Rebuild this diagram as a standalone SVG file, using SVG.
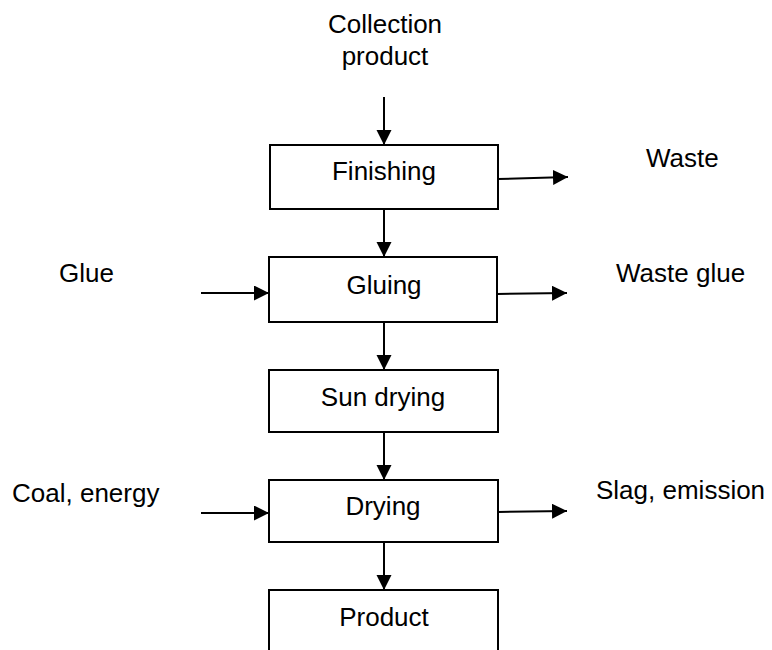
<svg xmlns="http://www.w3.org/2000/svg" width="772" height="650" viewBox="0 0 772 650">
<style>
.box{fill:#fff;stroke:#000;stroke-width:2}
.t{font-family:"Liberation Sans",Arial,sans-serif;font-size:26px;fill:#000}
.c{text-anchor:middle}
.ln{stroke:#000;stroke-width:2;fill:none;marker-end:url(#ah)}
</style>
<defs>
<marker id="ah" markerUnits="userSpaceOnUse" markerWidth="16" markerHeight="16" refX="15" refY="7.5" orient="auto">
<path d="M0,0 L15,7.5 L0,15 z" fill="#000"/>
</marker>
</defs>
<rect width="772" height="650" fill="#fff"/>
<g id="connectors">
<line class="ln" x1="384" y1="97" x2="384" y2="145"/>
<line class="ln" x1="384" y1="209" x2="384" y2="257"/>
<line class="ln" x1="384" y1="322" x2="384" y2="370"/>
<line class="ln" x1="384" y1="432" x2="384" y2="480"/>
<line class="ln" x1="384" y1="542" x2="384" y2="590"/>
<line class="ln" x1="498" y1="179" x2="568" y2="177"/>
<line class="ln" x1="497" y1="294" x2="567" y2="293"/>
<line class="ln" x1="498" y1="512" x2="567" y2="511"/>
<line class="ln" x1="201" y1="293" x2="269" y2="293"/>
<line class="ln" x1="201" y1="513" x2="269" y2="513"/>
</g>
<g id="collection">
<text class="t c" x="385" y="33">Collection</text>
<text class="t c" x="385" y="65">product</text>
</g>
<g id="finishing">
<rect class="box" x="270" y="145" width="228" height="64"/>
<text class="t c" x="384" y="180">Finishing</text>
</g>
<g id="waste"><text class="t" x="646" y="167">Waste</text></g>
<g id="glue"><text class="t" x="59" y="282">Glue</text></g>
<g id="gluing">
<rect class="box" x="269" y="257" width="228" height="65"/>
<text class="t c" x="384" y="294">Gluing</text>
</g>
<g id="waste-glue"><text class="t" x="616" y="282">Waste glue</text></g>
<g id="sun-drying">
<rect class="box" x="269" y="370" width="229" height="62"/>
<text class="t c" x="383" y="406">Sun drying</text>
</g>
<g id="coal"><text class="t" x="12" y="502">Coal, energy</text></g>
<g id="drying">
<rect class="box" x="269" y="480" width="229" height="62"/>
<text class="t c" x="383" y="515">Drying</text>
</g>
<g id="slag"><text class="t" x="596" y="499">Slag, emission</text></g>
<g id="product">
<rect class="box" x="269" y="590" width="229" height="70"/>
<text class="t c" x="384" y="626">Product</text>
</g>
</svg>
